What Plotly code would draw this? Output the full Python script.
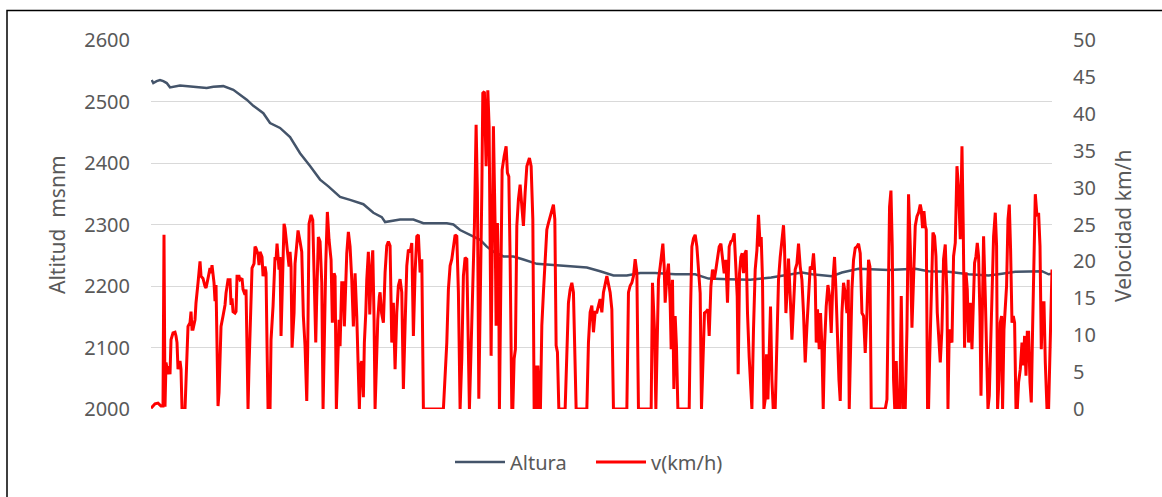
import plotly.graph_objects as go

# ---- Altura (m) vs muestra ----
t_alt = [0.7, 2.3, 5.7, 9, 12.3, 15.7, 19, 22.3, 29, 42.3, 55.7, 62.3, 72.3, 82.3, 89, 95.7,
         102.3, 112.3, 119, 129, 139, 149, 159, 169, 177.3, 189, 199, 212.3, 222.3, 230.7, 234,
         242.3, 249, 262.3, 272.3, 295.7, 302.3, 309, 319, 329, 335.7, 342.3, 352.3, 362.3,
         372.3, 385.7, 402.3, 422.3, 435.7, 449, 462.3, 475.7, 489, 504, 524, 544, 550.7, 557.3,
         577.3, 599, 620, 637.3, 650.7, 660.7, 680.7, 690.7, 700.7, 707.3, 737.3, 764, 777.3,
         797.3, 817.3, 837.3, 850.7, 864, 890.7, 897.3, 900.7]
altura = [2535, 2530, 2533, 2535, 2533, 2530, 2523, 2524, 2526, 2524, 2522, 2524, 2525, 2519, 2511, 2503,
          2493, 2481, 2465, 2457, 2442, 2416, 2395, 2373, 2362, 2345, 2340, 2333, 2319, 2312, 2304,
          2306, 2308, 2308, 2302, 2302, 2300, 2291, 2283, 2275, 2264, 2256, 2248, 2248,
          2243, 2236, 2234, 2231, 2230, 2224, 2217, 2217, 2221, 2221, 2219, 2219, 2215, 2212,
          2211, 2210, 2214, 2219, 2222, 2219, 2216, 2222, 2226, 2228, 2226, 2228, 2224,
          2223, 2219, 2217, 2220, 2223, 2224, 2219, 2220]

# ---- Velocidad (km/h) vs muestra ----
t_vel = [0, 4, 7, 10, 12, 13, 14, 15, 17, 18, 19, 20, 22, 24, 25, 26, 27, 29, 30, 31, 34, 35, 36, 37,
         39, 40, 41, 42, 44, 45, 47, 49, 50, 52, 54, 55, 57, 59, 60, 61, 63, 64, 65, 66, 67, 68, 69,
         70, 72, 74, 75, 77, 79, 80, 81, 82, 84, 85, 86, 88, 89, 91, 92, 94, 95, 96, 97, 98, 100,
         101, 103, 104, 105, 107, 108, 109, 111, 112, 114, 115, 116, 117, 119, 120, 122, 124, 125,
         126, 128, 129, 130, 132, 133, 134, 136, 138, 139, 140, 141, 143, 144, 147, 149, 150.7,
         152.3, 154, 155.7, 156.7, 158, 160, 161.7, 163.3, 164.7, 165.7, 167.3, 169, 170.7, 172,
         173.3, 174.7, 176.3, 178, 180, 181.3, 183, 184, 185.3, 186.7, 188, 189, 190.7, 192.3,
         193.3, 195.7, 197.3, 199, 200.7, 202.3, 204, 205.7, 207.3, 208.3, 209.3, 210.7, 212.3,
         213.3, 214.7, 215.7, 217.3, 218.7, 220, 221.7, 223, 224, 225.3, 226.7, 228.3,
         229, 230.5, 232.3, 234, 235.7, 237.3, 239, 240.7, 242.3, 244, 245.7, 247.3, 249, 250.7,
         252.3, 254, 255.7, 257.3, 259, 260.7, 262.3, 264, 265.7, 267.3, 269, 270.7, 272.3, 292.3,
         294, 295.7, 297.3, 299, 300.7, 302.3, 304, 305.7, 307.3, 309, 310.7, 312.3, 314, 315.7,
         317.3, 318.3, 319.7, 321.7, 323.3, 325, 326.3, 327.7, 329, 330.7, 331.7, 333.3, 335,
         336.7, 338, 339, 340, 341.3, 342.3, 344, 345, 346.3, 347.7, 348.3, 349.7, 351, 353, 355,
         356.3, 357.7, 359, 360.7, 361.7, 363, 364.3, 365.7, 367.3, 369, 370.7, 372.3, 374, 375.7,
         378.3, 380, 381.7, 383, 384.3, 385.7, 386.7, 388.3, 389.3, 390.7, 392.3, 394, 395.7,
         397.3, 399, 400.7, 402.3, 403.7, 405, 406.3, 407.7, 414, 415.7, 417.3, 419, 420.7, 422.3,
         423.7, 425, 435.7, 437.3, 439, 440.7, 442.3, 444, 445.7, 447.3, 449, 450.7, 452.3, 455.7,
         457.3, 459, 460.7, 462.3, 475.7, 477.3, 479, 480.7, 482.3, 484, 485.7, 487.3, 499,
         500, 501.3, 503.3, 504.7, 506, 507.3, 509, 510.7, 511.7, 513, 514, 515.7, 517.3, 519, 520,
         521.3, 522.7, 524, 525.3, 526.7, 538, 539.3, 540.7, 542.3, 544, 545.7, 547.3, 549, 550.3,
         551.7, 553.3, 555, 556.7, 558, 559.7, 561.3, 563, 564.7, 566.3, 568, 569.7, 571.3, 573,
         574.7, 576.3, 578, 579.7, 581.3, 583, 584.3, 586, 587, 588.3, 589.7, 591, 592.3, 593.7,
         595, 596.3, 598, 600.7, 602.3, 604, 605.7, 607.3, 609, 610, 611.3, 612.7, 614, 615.3,
         616.7, 618, 619.3, 620.7, 622, 624, 625.7, 627.3, 629, 630.7, 632.3, 633.3, 634.7, 636,
         637.3, 639, 640.7, 642.3, 644, 645.7, 647.3, 649, 650.7, 652.3, 654, 655.7, 657.3, 659,
         660.7, 662.3, 664, 665, 666.3, 668, 669.3, 670.7, 672, 673.3, 675, 676.7, 678.3, 680,
         681.7, 683.3, 684.7, 686.3, 687.7, 689, 690.7, 692.3, 694, 695.7, 697, 698, 699.3, 700.7,
         702.3, 704, 705.7, 707.3, 709, 710.7, 712.3, 714, 715.7, 717.3, 718.7, 720, 734, 735.7,
         737.3, 738.3, 739.7, 741, 742.3, 743.5, 745, 746.3, 748.5, 750, 751.7, 754, 755.7,
         757.3, 759, 760.7, 762.3, 764, 765.7, 767.3, 769, 770, 771.3, 772.7, 774, 775, 776.3,
         777.3, 778.3, 780, 781.7, 783.3, 784.7, 786, 787.3, 789, 790.7, 792.3, 794, 795.7, 796.7,
         798, 799.3, 800.7, 802.3, 804, 805.7, 807.3, 809, 810.7, 812, 813.3, 814.7, 816, 817.3,
         819, 820.7, 822, 823.3, 824.7, 826, 827.3, 828.7, 829.7, 831, 832.3, 834, 835.3, 836.7,
         838, 839.3, 840.7, 842.3, 844, 845.3, 846.3, 847.7, 849, 850.3, 851.3, 852.7, 854, 855.3,
         856.7, 858, 859.3, 860.7, 862, 863.3, 864.7, 866, 867.3, 869, 870.7, 872, 873.3, 874.7,
         876, 877.3, 878.7, 880, 881.3, 882.7, 884, 885.7, 887.3, 888.7, 890, 891.3, 892.7, 894,
         895.7, 897.3, 899, 900.7]
velocidad = [0.1, 0.7, 0.8, 0.4, 0.4, 23.6, 0.3, 6.3, 4.7, 5.8, 4.7, 9.4, 10.3, 10.4, 9.9, 9.0, 5.4, 6.5, 5.4, 0, 0, 4.0, 7.2, 11.2,
             11.7, 13.2, 10.8, 10.8, 12.1, 14.4, 17.1, 20.0, 18.0, 17.7, 16.6, 16.4, 17.7, 19.1, 18.4, 19.5, 17.1, 14.6, 16.8, 7.6, 0.4, 2.2, 8.1,
             11.2, 12.6, 14.1, 15.7, 17.5, 17.5, 14.1, 15.0, 13.2, 13.0, 13.2, 18.0, 18.0, 17.5, 17.7, 16.2, 15.5, 16.2, 7.6, 0, 5.8, 13.7,
             19.1, 19.7, 22.0, 21.8, 20.9, 19.5, 21.3, 20.6, 18.0, 19.3, 18.4, 8.5, 0, 0, 9.4, 13.9, 20.6, 20.2,
             22.4, 18.9, 20.6, 9.9, 21.1, 25.1, 24.5, 21.5, 19.3, 21.3, 19.3, 8.3, 13.0, 19.7, 24.2, 22.7, 21.3,
             12.6, 8.5, 1.1, 8.5, 25.1, 26.3, 25.6, 18.4, 9.0, 15.3, 23.3, 22.7, 17.1, 0,
             13.0, 19.7, 26.7, 22.9, 20.2, 11.7, 18.4, 18.0, 0, 7.6, 12.1, 8.5, 17.1, 17.1,
             11.2, 21.1, 24.0, 22.0, 17.5, 11.2, 18.4, 12.6, 4.0, 0, 5.8, 6.5, 1.6,
             9.0, 13.0, 17.5, 21.3, 12.8, 18.4, 21.5, 12.1, 0, 5.8, 12.1, 15.3,
             15.8, 13.0, 11.7, 18.5, 22.1, 22.7, 22.1, 9.0, 14.4, 5.4, 13.1, 16.7, 17.6, 15.8,
             2.7, 11.3, 19.4, 21.6, 21.2, 22.5, 9.9, 18.5, 23.4, 23.6, 18.5, 20.3, 0, 0,
             5.0, 9.0, 16.2, 19.4, 20.3, 22.1, 23.6, 23.4, 15.8, 0, 6.8, 18.0, 20.5, 20.3,
             6.8, 0, 6.8, 15.8, 24.8, 38.5, 29.3, 1.4, 11.3, 29.3, 42.8, 43.0, 32.9,
             43.2, 38.3, 24.8, 7.2, 24.8, 38.3, 24.8, 11.3, 25.2, 15.8, 0, 15.8, 32.4, 34.2, 35.6,
             32.0, 31.5, 20.3, 0, 0, 6.8, 8.1, 24.8, 28.4, 30.4, 27.5, 24.8, 29.3, 32.9,
             34.0, 32.9, 25.7, 0, 5.9, 0, 5.9, 0, 0, 11.3, 15.8, 21.2, 24.3,
             25.2, 26.1, 26.6, 27.7, 25.7, 8.6, 7.7, 0, 0, 6.8, 14.4, 16.2, 17.1, 15.8,
             8.6, 0, 0, 9.0, 13.1, 14.0, 10.4, 13.1, 13.1, 14.0, 14.9, 13.1, 15.8, 18.0,
             17.1, 15.8, 13.5, 0, 0, 15.8, 16.7, 17.1, 18.0, 20.3, 18.5, 0, 0,
             0, 17.1, 10.8, 0, 8.5, 17.5, 19.3, 22.0, 22.4, 19.3, 14.4, 18.0, 19.7, 14.4, 8.1,
             17.5, 2.7, 12.6, 8.5, 0, 0, 13.0, 22.0, 23.1, 23.6, 22.0, 18.4, 15.7, 0,
             6.3, 13.0, 13.2, 13.5, 9.9, 16.6, 18.9, 17.5, 18.9, 20.6, 22.0, 22.4, 20.2, 18.4,
             20.2, 14.4, 22.0, 22.7, 22.9, 23.8, 20.2, 15.3, 4.7, 18.4, 20.6, 21.1, 18.4, 21.1,
             21.5, 13.0, 7.0, 0, 10.8, 18.9, 21.5, 26.3, 22.0, 23.3, 17.5, 0, 1.3, 7.4,
             1.3, 8.5, 13.9, 4.0, 0, 0, 9.9, 17.5, 20.6, 23.3, 24.9, 22.0, 13.0, 16.2,
             20.4, 15.3, 9.4, 13.9, 18.9, 19.7, 22.4, 19.3, 17.5, 13.0, 6.3, 11.2, 15.3, 19.3,
             18.9, 21.1, 17.5, 9.0, 13.5, 8.1, 13.0, 8.5, 0, 8.5, 13.9, 16.8, 15.3, 10.3,
             17.5, 20.6, 16.2, 8.1, 4.0, 1.1, 13.0, 17.1, 15.7, 13.0, 17.5, 0, 8.5, 16.2,
             20.2, 21.8, 22.0, 22.4, 21.1, 13.0, 12.6, 7.6, 13.0, 20.2, 19.3, 0, 0, 1.3,
             17.5, 27.4, 29.6, 22.0, 4.0, 0, 6.5, 0, 0, 15.3, 0, 0, 10.8,
             29.1, 22.1, 11.0, 17.6, 24.8, 26.1, 26.6, 27.7, 27.0, 24.5, 26.8, 24.8, 24.3, 0,
             0, 6.3, 15.3, 23.9, 23.4, 20.7, 13.1, 9.9, 6.3, 10.8, 20.3, 22.3, 15.3, 0,
             10.8, 9.5, 9.0, 20.7, 22.5, 32.9, 29.7, 23.0, 35.6, 24.3, 8.3, 18.5, 16.2, 9.0,
             14.4, 8.1, 14.4, 19.8, 20.7, 22.5, 20.7, 12.6, 1.8, 12.6, 23.4, 15.3, 6.8, 0,
             1.8, 7.2, 15.3, 23.4, 26.6, 22.1, 0, 4.1, 11.7, 12.6, 0, 10.8, 13.5, 16.7,
             25.7, 27.7, 21.6, 11.7, 12.6, 11.7, 0, 0, 3.6, 5.4, 9.0, 5.9, 9.9, 4.5,
             10.4, 10.4, 3.6, 0.9, 10.8, 19.8, 29.1, 26.1, 26.6, 22.1, 8.1, 14.4, 14.4, 6.3,
             0, 0, 10.8, 18.9]

GRAY = "#595959"
FONT = "Noto Sans"

fig = go.Figure()
fig.add_trace(go.Scatter(x=t_alt, y=altura, name="Altura", mode="lines",
                         line=dict(color="#44546A", width=2.5), yaxis="y"))
fig.add_trace(go.Scatter(x=t_vel, y=velocidad, name="v(km/h)", mode="lines",
                         line=dict(color="#FF0000", width=3), yaxis="y2"))

L, R, T, B = 151, 110, 40, 88
W, H = 1162, 497
pw, ph = W - L - R, H - T - B

def px(x):
    return (x - L) / pw

def py(y):
    return (H - B - y) / ph

fig.update_layout(
    width=W, height=H,
    margin=dict(l=L, r=R, t=T, b=B, pad=0),
    paper_bgcolor="white", plot_bgcolor="white",
    font=dict(family=FONT, size=20, color=GRAY),
    showlegend=True,
    legend=dict(orientation="h", x=px(450), xanchor="left", y=py(462), yanchor="middle",
                itemwidth=50, entrywidth=76, entrywidthmode="pixels",
                font=dict(size=20, color=GRAY), bgcolor="rgba(0,0,0,0)"),
    xaxis=dict(range=[0, 900.7], showgrid=False, zeroline=False, showline=False,
               showticklabels=False, ticks=""),
    yaxis=dict(range=[2000, 2600], dtick=100, tick0=2000, showgrid=True, gridcolor="#D9D9D9",
               gridwidth=1.3, zeroline=False, showline=False, ticks="",
               tickfont=dict(size=20, color=GRAY), ticklabelstandoff=20),
    yaxis2=dict(range=[0, 50], dtick=5, tick0=0, overlaying="y", side="right", showgrid=False,
                zeroline=False, showline=False, ticks="",
                tickfont=dict(size=20, color=GRAY), ticklabelstandoff=20),
    annotations=[
        dict(text="Altitud  msnm", xref="paper", yref="paper", x=px(57), y=py(225),
             textangle=-90, showarrow=False, font=dict(size=21, color=GRAY),
             xanchor="center", yanchor="middle"),
        dict(text="Velocidad km/h", xref="paper", yref="paper", x=px(1123), y=py(226),
             textangle=-90, showarrow=False, font=dict(size=21, color=GRAY),
             xanchor="center", yanchor="middle"),
    ],
    shapes=[
        dict(type="rect", xref="paper", yref="paper", x0=px(7), x1=px(1175), y0=py(510), y1=py(10.5),
             line=dict(color="black", width=1.5), fillcolor="rgba(0,0,0,0)", layer="above"),
    ],
)

fig.write_html("out.html")
